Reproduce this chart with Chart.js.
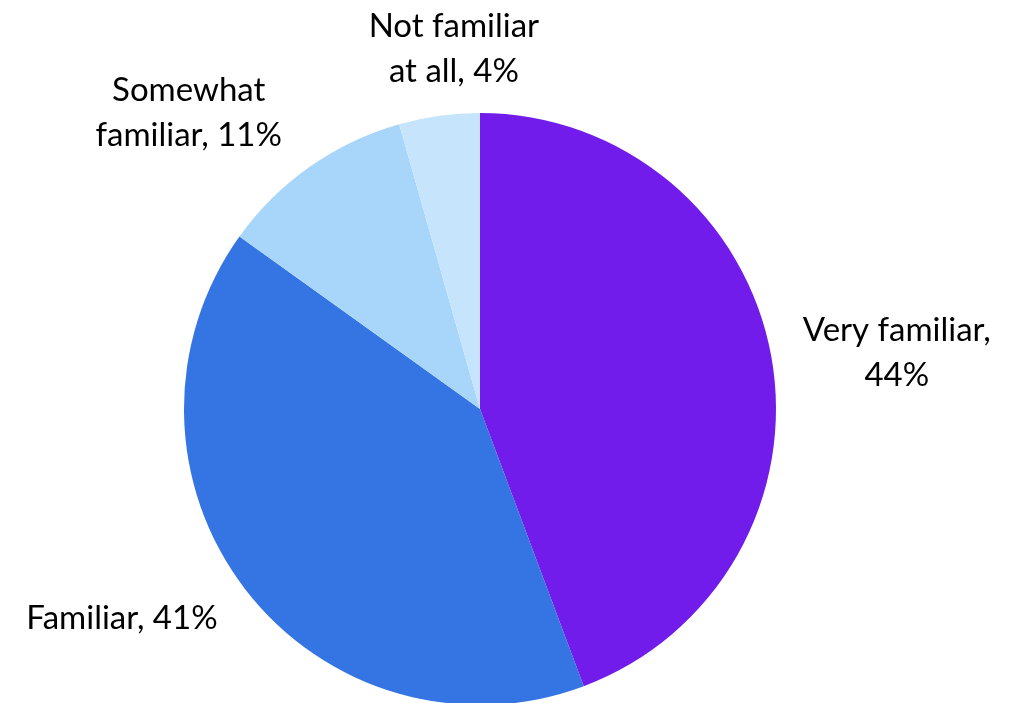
<!DOCTYPE html>
<html>
<head>
<meta charset="utf-8">
<script src="https://cdn.jsdelivr.net/npm/chart.js@4/dist/chart.umd.min.js"></script>
<style>
    html, body { margin: 0; padding: 0; background: #fff; overflow: hidden; }
    #wrap { width: 1020px; height: 710px; position: relative; }
</style>
</head>
<body>
<div id="wrap"><canvas id="chart1"></canvas></div>
<script>
const categories = ['Very familiar', 'Familiar', 'Somewhat familiar', 'Not familiar at all'];
const shares = [44.3, 40.6, 10.7, 4.4];
// line breaks as in the original labels
const labelLines = [
    ['Very familiar,', '44%'],
    ['Familiar, 41%'],
    ['Somewhat', 'familiar, 11%'],
    ['Not familiar', 'at all, 4%']
];
const sliceColors = ['#721CEB', '#3574E3', '#A7D6FA', '#C7E4FD'];

// draws the outside labels, placed along each slice's middle angle
const outsideLabels = {
    id: 'outsideLabels',
    afterDatasetsDraw(chart, args, opts) {
        const ctx = chart.ctx;
        const arcs = chart.getDatasetMeta(0).data;
        ctx.save();
        ctx.font = opts.font;
        ctx.fillStyle = opts.color;
        ctx.textAlign = 'center';
        ctx.textBaseline = 'middle';
        arcs.forEach(function (arc, i) {
            const mid = (arc.startAngle + arc.endAngle) / 2;
            const dist = arc.outerRadius * opts.distance;
            const nudge = opts.nudge[i];
            const cx = arc.x + Math.cos(mid) * dist + nudge[0];
            const cy = arc.y + Math.sin(mid) * dist + nudge[1];
            const lines = labelLines[i];
            const top = cy - (lines.length - 1) * opts.lineHeight / 2;
            lines.forEach(function (t, j) {
                ctx.fillText(t, cx, top + j * opts.lineHeight);
            });
        });
        ctx.restore();
    }
};

const config = {
    type: 'pie',
    data: {
        labels: categories,
        datasets: [{
            data: shares,
            backgroundColor: sliceColors,
            borderWidth: 0
        }]
    },
    options: {
        responsive: true,
        maintainAspectRatio: false,
        animation: false,
        layout: {
            padding: { left: 184, right: 244, top: 113, bottom: 5 }
        },
        plugins: {
            legend: { display: false },
            tooltip: { enabled: false },
            outsideLabels: {
                font: '33px Lato',
                color: '#000',
                lineHeight: 45,
                distance: 1.4,
                nudge: [[9, 18], [-29, -43], [-53, 43], [31, 50]]
            }
        }
    },
    plugins: [outsideLabels]
};

var myPie = new Chart(document.getElementById('chart1'), config);
</script>
</body>
</html>
